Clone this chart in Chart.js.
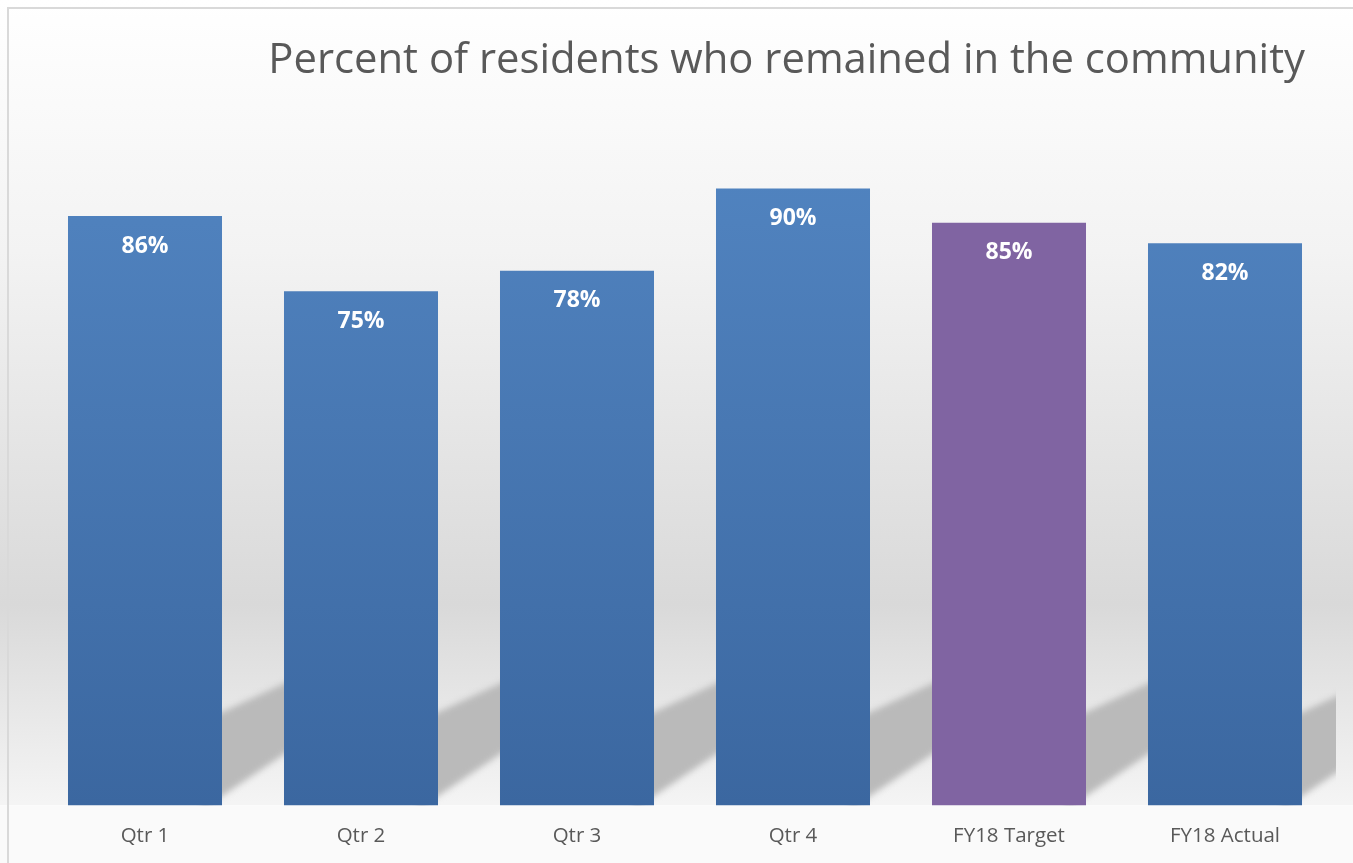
<!DOCTYPE html>
<html>
<head>
<meta charset="utf-8">
<title>Percent of residents who remained in the community</title>
<script src="https://cdn.jsdelivr.net/npm/chart.js@4/dist/chart.umd.min.js"></script>
<style>
    body { margin: 0; background: #ffffff; }
    .chart__wrap { position: absolute; left: 0; top: 0; width: 1353px; height: 863px; }
</style>
</head>
<body>
<div class="chart__wrap">
    <canvas id="myChart"></canvas>
</div>
<script>
// data
const chartTitle = 'Percent of residents who remained in the community';
const categories = ['Qtr 1', 'Qtr 2', 'Qtr 3', 'Qtr 4', 'FY18 Target', 'FY18 Actual'];
const residentsPercent = [0.86, 0.75, 0.78, 0.90, 0.85, 0.82];
const targetCategory = 'FY18 Target';

// background: gradient, border and the bar shadows
const backgroundPlugin = {
    id: 'background',
    beforeDraw(chart) {
        const { ctx, width, height, chartArea } = chart;
        ctx.save();
        const grad = ctx.createLinearGradient(0, 0, 0, height);
        grad.addColorStop(0, '#ffffff');
        grad.addColorStop(0.29, '#f3f3f3');
        grad.addColorStop(0.7, '#d9d9d9');
        grad.addColorStop(0.93, '#f4f4f4');
        ctx.fillStyle = grad;
        ctx.fillRect(0, 0, width, chartArea.bottom);
        ctx.fillStyle = '#fafafa';
        ctx.fillRect(0, chartArea.bottom, width, height - chartArea.bottom);

        ctx.strokeStyle = '#d9d9d9';
        ctx.lineWidth = 2;
        ctx.strokeRect(8, 8, width + 10, height + 10);
        ctx.restore();
    },
    beforeDatasetsDraw(chart) {
        const { ctx, chartArea } = chart;
        const bars = chart.getDatasetMeta(0).data;
        ctx.save();
        ctx.beginPath();
        ctx.rect(chartArea.left, chartArea.top, chartArea.right + 3 - chartArea.left, chartArea.bottom - chartArea.top);
        ctx.clip();
        ctx.filter = 'blur(3px)';
        ctx.fillStyle = '#bababa';
        bars.forEach((bar) => {
            const xR = bar.x + bar.width / 2;
            const yb = bar.base;
            ctx.beginPath();
            ctx.moveTo(xR - 20, yb - 84);
            ctx.lineTo(xR + 90, yb - 135);
            ctx.lineTo(xR + 90, yb - 70);
            ctx.lineTo(xR - 20, yb + 4);
            ctx.closePath();
            ctx.fill();
        });
        ctx.restore();
    },
};

// title and value labels
const textPlugin = {
    id: 'texts',
    afterDatasetsDraw(chart) {
        const { ctx } = chart;
        const bars = chart.getDatasetMeta(0).data;
        ctx.save();
        ctx.fillStyle = '#ffffff';
        ctx.font = 'bold 23px "Open Sans"';
        ctx.textAlign = 'center';
        ctx.textBaseline = 'middle';
        bars.forEach((bar, i) => {
            ctx.fillText(Math.round(residentsPercent[i] * 100) + '%', bar.x, bar.y + 30);
        });

        ctx.fillStyle = '#595959';
        ctx.font = '41.8px "Open Sans"';
        ctx.textAlign = 'right';
        ctx.textBaseline = 'alphabetic';
        ctx.fillText(chartTitle, 1305, 73);
        ctx.restore();
    },
};

function barColor(context) {
    const chart = context.chart;
    if (categories[context.dataIndex] === targetCategory) {
        return '#8064a2';
    }
    if (!chart.chartArea) {
        return '#4a7ab5';
    }
    const g = chart.ctx.createLinearGradient(0, chart.chartArea.top, 0, chart.chartArea.bottom);
    g.addColorStop(0, '#5085c2');
    g.addColorStop(0.15, '#4f81bd');
    g.addColorStop(1, '#3b67a0');
    return g;
}

const config = {
    type: 'bar',
    data: {
        labels: categories,
        datasets: [
            {
                data: residentsPercent,
                backgroundColor: barColor,
                borderWidth: 0,
                categoryPercentage: 1,
                barPercentage: 0.713,
            },
        ],
    },
    options: {
        responsive: true,
        maintainAspectRatio: false,
        animation: false,
        layout: {
            padding: { left: 37, right: 20, top: 120, bottom: -3 },
        },
        plugins: {
            legend: { display: false },
            title: { display: false },
            tooltip: { enabled: false },
        },
        scales: {
            x: {
                grid: { display: false, drawTicks: false },
                border: { display: false },
                ticks: {
                    color: '#595959',
                    padding: 18,
                    font: { family: '"Open Sans"', size: 20.5 },
                },
            },
            y: {
                display: false,
                min: 0,
                max: 1,
            },
        },
    },
    plugins: [backgroundPlugin, textPlugin],
};

const myChart = new Chart(document.getElementById('myChart'), config);
</script>
</body>
</html>
